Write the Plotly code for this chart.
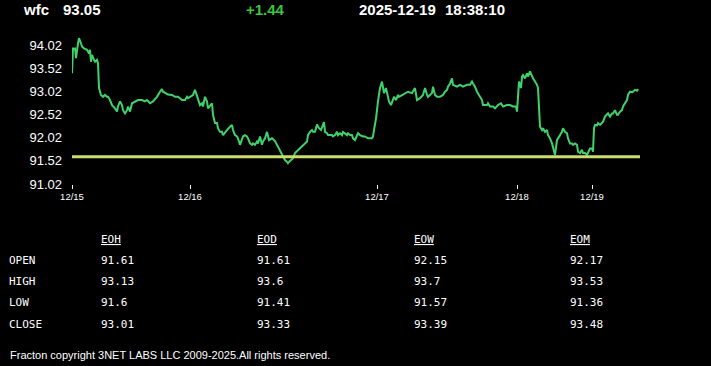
import plotly.graph_objects as go

# ---------------- data ----------------
symbol = "wfc"
last_price = "93.05"
change = "+1.44"
date_str = "2025-12-19"
time_str = "18:38:10"
ref_level = 91.61

bar_idx = [
    0, 1, 3, 4, 6, 7, 9, 10, 12, 14, 15, 17, 18, 19, 20, 22, 23, 25, 26, 27, 29, 31, 33, 35, 36, 38, 40, 43, 45, 46,
    48, 50, 51, 53, 55, 56, 58, 60, 63, 66, 70, 73, 75, 78, 81, 85, 88, 90, 91, 93, 96, 100, 103, 106, 110, 113,
    115, 116, 118, 121, 123, 125, 126, 128, 130, 131, 133, 135, 136, 138, 140, 141, 143, 145, 146, 148, 150, 151,
    153, 155, 158, 160, 161, 163, 165, 166, 168, 170, 171, 173, 175, 176, 178, 180, 181, 183, 185, 186, 188, 190,
    191, 193, 195, 197, 200, 203, 206, 208, 210, 213, 215, 216, 218, 221, 223, 226,
    228, 230, 233, 235, 236, 238, 240, 241, 243, 245, 247, 249, 252, 253, 255, 256, 258, 260, 261, 263, 265, 266,
    268, 270, 271, 273, 275, 276, 278, 280, 281, 283, 285, 286, 288, 291, 293, 295, 296, 300, 301, 302, 304, 306,
    308, 310, 312, 314, 316, 317, 319, 321, 322, 324, 326, 327, 330, 333, 336, 340, 343,
    345, 348, 351, 353, 355, 356, 360, 361, 363, 365, 368, 371, 373, 375, 376, 378, 380, 381, 385, 388, 391, 395,
    398, 400, 401, 403, 405, 408, 410, 411, 415, 416, 418, 421, 423, 426, 429, 431, 435, 438, 441, 444, 445, 446,
    447, 449, 450, 451, 453, 455, 456, 458,
    460, 461, 463, 465, 466, 467, 468, 470, 471, 473, 475, 476, 478, 480, 481, 483, 485, 486, 488, 490, 491, 493,
    495, 496, 498, 500, 501, 503, 505, 506, 508, 510, 511, 513, 515, 516, 518, 520, 521, 522, 523, 525, 526, 528,
    530, 531, 533, 535, 536, 538, 540, 541, 543, 545, 546, 548, 550, 551, 553, 555, 556, 558, 560, 561, 563, 565, 566,
]

price = [
    93.42, 93.96, 93.96, 93.75, 94.07, 94.18, 94.07, 94.00, 93.96, 93.93, 93.93, 93.85, 93.93, 93.67, 93.82, 93.71,
    93.67, 93.71, 93.64, 93.10, 92.95, 92.91, 92.95, 92.91, 92.91, 92.84, 92.73, 92.66, 92.59, 92.70, 92.81, 92.73,
    92.62, 92.55, 92.62, 92.70, 92.59, 92.77, 92.81, 92.84, 92.84, 92.81, 92.84, 92.77, 92.81, 92.91, 93.02, 93.08,
    93.02, 92.99, 92.96, 92.95, 92.91, 92.91, 92.84, 92.84,
    92.91, 92.88, 92.91, 92.95, 93.06, 92.91, 92.84, 92.73, 92.77, 92.70, 92.91, 92.81, 92.66, 92.73, 92.77, 92.52,
    92.34, 92.34, 92.23, 92.15, 92.15, 92.08, 92.15, 92.19, 92.26, 92.30, 92.19, 92.08, 92.05, 92.01, 91.87, 91.97,
    92.05, 92.08, 92.05, 92.01, 91.90, 91.87, 91.90, 91.87, 91.94, 91.90, 92.05, 91.87, 91.94, 92.01, 92.15, 91.97,
    92.01, 91.95, 91.83, 91.76, 91.69, 91.54, 91.50, 91.47, 91.52, 91.58, 91.69, 91.76,
    91.79, 91.83, 91.90, 91.94, 92.08, 92.15, 92.19, 92.15, 92.15, 92.31, 92.23, 92.19, 92.36, 92.15, 92.12, 92.08,
    92.08, 92.08, 92.05, 92.08, 92.15, 92.08, 92.12, 92.08, 92.15, 92.12, 92.08, 92.12, 92.08, 92.08, 92.01, 91.97,
    92.08, 92.12, 92.08, 92.05, 92.05, 92.01, 92.01, 92.01, 92.05, 92.19, 92.44, 92.81, 93.10, 93.24, 92.99, 93.10,
    92.91, 92.81, 92.73, 92.84, 92.91, 92.84, 92.95, 92.91, 92.95, 92.99, 93.02, 92.99, 93.10,
    92.84, 92.88, 92.95, 93.10, 92.95, 92.91, 92.99, 93.13, 92.95, 92.91, 92.91, 92.95, 93.02, 93.06, 93.13, 93.20,
    93.31, 93.17, 93.13, 93.17, 93.13, 93.17, 93.17, 93.24, 93.20, 93.13, 93.02, 92.91, 92.84, 92.73, 92.73, 92.77,
    92.70, 92.70, 92.66, 92.73, 92.77, 92.70, 92.73, 92.73, 92.70, 92.70, 92.59, 92.91, 93.24, 93.10, 93.35, 93.38,
    93.31, 93.42, 93.35, 93.46,
    93.35, 93.31, 93.24, 93.17, 93.10, 92.66, 92.26, 92.19, 92.23, 92.15, 92.19, 92.08, 92.01, 91.90, 91.79, 91.65,
    91.97, 92.01, 92.08, 92.15, 92.23, 92.15, 92.12, 92.01, 91.90, 91.90, 91.87, 91.90, 91.87, 91.72, 91.69, 91.76,
    91.69, 91.69, 91.65, 91.69, 91.79, 91.79, 91.72, 92.23, 92.30, 92.29, 92.34, 92.30, 92.34, 92.37, 92.48, 92.52,
    92.55, 92.48, 92.55, 92.55, 92.62, 92.52, 92.52, 92.59, 92.62, 92.70, 92.77, 92.84, 92.95, 93.02, 93.01, 93.02,
    93.06, 93.04, 93.08,
]

day_tick_idx = [0, 118, 305, 445, 520]
day_tick_labels = ["12/15", "12/16", "12/17", "12/18", "12/19"]
y_ticks = [91.02, 91.52, 92.02, 92.52, 93.02, 93.52, 94.02]

table_cols = ["EOH", "EOD", "EOW", "EOM"]
row_labels = ["OPEN", "HIGH", "LOW", "CLOSE"]
eoh = ["91.61", "93.13", "91.6", "93.01"]
eod = ["91.61", "93.6", "91.41", "93.33"]
eow = ["92.15", "93.7", "91.57", "93.39"]
eom = ["92.17", "93.53", "91.36", "93.48"]
table_values = [eoh, eod, eow, eom]
footer = "Fracton copyright 3NET LABS LLC 2009-2025.All rights reserved."

# ---------------- layout ----------------
W, H = 711, 366
ML, MR, MT, MB = 72, 71, 35, 182
PW, PH = W - ML - MR, H - MT - MB


def paper(x, y):
    return (x - ML) / PW, (H - MB - y) / PH


fig = go.Figure()
fig.add_trace(go.Scatter(
    x=bar_idx, y=price, mode="lines",
    line=dict(color="#3fd26c", width=2), hoverinfo="skip", showlegend=False,
))
fig.add_trace(go.Scatter(
    x=[0, 568], y=[ref_level, ref_level], mode="lines",
    line=dict(color="#c9dc6c", width=3), hoverinfo="skip", showlegend=False,
))

ann = []


def text(x, y, s, size, color="white", family="Liberation Sans, Arial, sans-serif", anchor="left"):
    px, py = paper(x, y)
    ann.append(dict(x=px, y=py, xref="paper", yref="paper", text=s, showarrow=False,
                    xanchor=anchor, yanchor="middle",
                    font=dict(size=size, color=color, family=family)))


text(21, 10, "<b>" + symbol + "</b>", 15)
text(61, 10, "<b>" + last_price + "</b>", 15)
text(244, 10, "<b>" + change + "</b>", 15, color="#3cc43c")
text(357, 10, "<b>" + date_str + "</b>", 15)
text(443, 10, "<b>" + time_str + "</b>", 15)

mono = "DejaVu Sans Mono, monospace"
col_x = [99, 255, 412, 568]
row_y = [260, 281, 302, 324]
for cx, name in zip(col_x, table_cols):
    text(cx, 239, "<u>" + name + "</u>", 11, family=mono)
for ry, lab in zip(row_y, row_labels):
    text(7, ry, lab, 11, family=mono)
for cx, vals in zip(col_x, table_values):
    for ry, v in zip(row_y, vals):
        text(cx, ry, v, 11, family=mono)

text(8, 355, footer, 11)

fig.update_layout(
    width=W, height=H,
    margin=dict(l=ML, r=MR, t=MT, b=MB),
    paper_bgcolor="black", plot_bgcolor="black",
    annotations=ann,
    xaxis=dict(
        range=[0, 568], tickmode="array", tickvals=day_tick_idx, ticktext=day_tick_labels,
        showgrid=False, zeroline=False, showline=False,
        ticks="outside", ticklen=4, tickwidth=1, tickcolor="white",
        tickfont=dict(size=9.5, color="white", family="Liberation Sans, Arial, sans-serif"),
    ),
    yaxis=dict(
        range=[91.02, 94.25], tickmode="array", tickvals=y_ticks,
        ticktext=[f"{v:.2f}" for v in y_ticks],
        showgrid=False, zeroline=False, showline=False,
        ticks="", ticklabelstandoff=9,
        tickfont=dict(size=13, color="white", family="Liberation Sans, Arial, sans-serif"),
    ),
)

fig.write_html(
    "out.html",
    config={"displayModeBar": False},
    post_script="document.body.style.margin='0';document.body.style.background='black';",
)
